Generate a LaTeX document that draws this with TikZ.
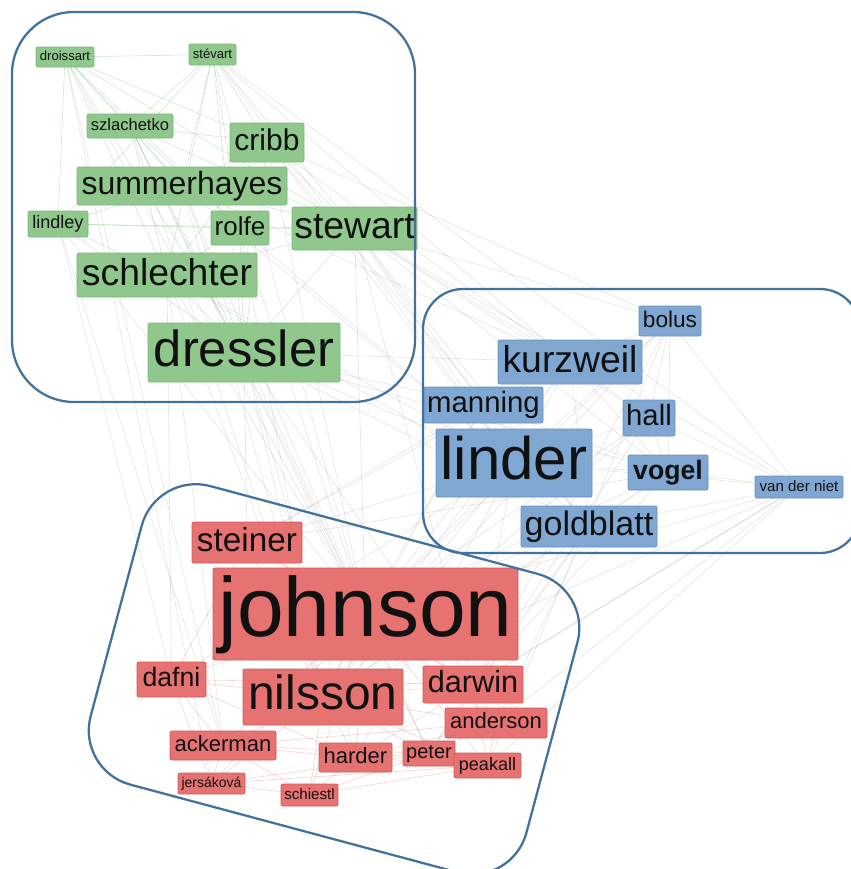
\documentclass[tikz,border=0pt]{standalone}
\usepackage{fontspec}
\setmainfont{Liberation Sans}
\usetikzlibrary{backgrounds}
\definecolor{gfill}{HTML}{90C78C}
\definecolor{gline}{HTML}{7CB879}
\definecolor{bfill}{HTML}{7FA7D2}
\definecolor{bline}{HTML}{6890BF}
\definecolor{rfill}{HTML}{E67272}
\definecolor{rline}{HTML}{D05A5A}
\definecolor{frame}{HTML}{41719C}
\definecolor{txt}{HTML}{111111}
\begin{document}
\begin{tikzpicture}[x=0.75pt,y=-0.75pt,
  nd/.style={rectangle, rounded corners=1.5pt, inner sep=0pt, text=txt, line width=0.6pt},
  gn/.style={nd, fill=gfill, draw=gline},
  bn/.style={nd, fill=bfill, draw=bline},
  rn/.style={nd, fill=rfill, draw=rline},
  sz/.style 2 args={minimum width=#1*0.75pt, minimum height=#2*0.75pt},
  fs/.style={font=\fontsize{#1}{#1}\selectfont, text height=0.75*#1pt, text depth=0.21*#1pt},
  fsb/.style={font=\fontsize{#1}{#1}\selectfont\bfseries, text height=0.75*#1pt, text depth=0.21*#1pt},
  gedge/.style={draw=green!35!gray, line width=0.45pt, opacity=0.28},
  xedge/.style={draw=gray, line width=0.45pt, opacity=0.22},
  bedge/.style={draw=orange!40!gray, line width=0.45pt, opacity=0.22},
  redge/.style={draw=red!60!gray, line width=0.45pt, opacity=0.22},
  cluster/.style={draw=frame, line width=1.7pt}
]
\useasboundingbox (0,0) rectangle (851,869);
\clip (0,0) rectangle (851,869);
% green cluster
\node[gn, sz={58}{20}, fs=9.8] (droissart) at (65,57) {droissart};
\node[gn, sz={47}{21}, fs=9.8] (stevart) at (212.5,54.5) {stévart};
\node[gn, sz={86}{24}, fs=12.4] (szlachetko) at (130,126) {szlachetko};
\node[gn, sz={74}{39}, fs=22.5] (cribb) at (267,142.5) {cribb};
\node[gn, sz={210}{38}, fs=24] (summerhayes) at (182,186) {summerhayes};
\node[gn, sz={60}{26}, fs=13.5] (lindley) at (58,224) {lindley};
\node[gn, sz={58}{34}, fs=19.5] (rolfe) at (240,228) {rolfe};
\node[gn, sz={125}{43}, fs=28] (stewart) at (354.5,228.5) {stewart};
\node[gn, sz={180}{44}, fs=28] (schlechter) at (167,275) {schlechter};
\node[gn, sz={192}{59}, fs=38] (dressler) at (244,352.5) {dressler};
% blue cluster
\node[bn, sz={62}{30}, fs=17] (bolus) at (670,321) {bolus};
\node[bn, sz={144}{44}, fs=28] (kurzweil) at (570,362) {kurzweil};
\node[bn, sz={119}{36}, fs=22] (manning) at (483.5,405) {manning};
\node[bn, sz={52}{36}, fs=22] (hall) at (649,418) {hall};
\node[bn, sz={156}{68}, fs=45] (linder) at (514,463) {linder};
\node[bn, sz={80}{35}, fsb=20] (vogel) at (668,472.5) {vogel};
\node[bn, sz={88}{22}, fs=11.3] (vdn) at (799,487) {van der niet};
\node[bn, sz={136}{41}, fs=25.5] (goldblatt) at (589,526.5) {goldblatt};
% red cluster
\node[rn, sz={110}{41}, fs=25] (steiner) at (247,542.5) {steiner};
\node[rn, sz={305}{92}, fs=63] (johnson) at (365.5,614) {johnson};
\node[rn, sz={69}{35}, fs=20] (dafni) at (171.5,679.5) {dafni};
\node[rn, sz={160}{56}, fs=36] (nilsson) at (323,697) {nilsson};
\node[rn, sz={100}{37}, fs=23] (darwin) at (473,684.5) {darwin};
\node[rn, sz={102}{30}, fs=16.5] (anderson) at (496,723) {anderson};
\node[rn, sz={106}{29}, fs=16.5] (ackerman) at (223,745.5) {ackerman};
\node[rn, sz={73}{29}, fs=16.5] (harder) at (355.5,757.5) {harder};
\node[rn, sz={52}{25}, fs=15] (peter) at (429,753.5) {peter};
\node[rn, sz={67}{25}, fs=13.5] (peakall) at (487.5,765.5) {peakall};
\node[rn, sz={67}{21}, fs=10.5] (jersakova) at (211.5,783.5) {jersáková};
\node[rn, sz={57}{22}, fs=11.3] (schiestl) at (309.5,795) {schiestl};

\begin{pgfonlayer}{background}
\foreach \a/\b in {droissart/stevart, droissart/szlachetko, droissart/summerhayes, droissart/cribb, droissart/lindley, droissart/schlechter, droissart/rolfe, droissart/stewart, droissart/dressler,
stevart/szlachetko, stevart/summerhayes, stevart/cribb, stevart/schlechter, stevart/stewart, stevart/dressler, stevart/rolfe, stevart/lindley,
szlachetko/cribb, szlachetko/summerhayes, szlachetko/schlechter, szlachetko/dressler, szlachetko/rolfe, szlachetko/stewart,
lindley/rolfe, lindley/stewart, lindley/schlechter, lindley/summerhayes, lindley/dressler,
rolfe/stewart, summerhayes/cribb, summerhayes/stewart, schlechter/dressler, cribb/stewart, cribb/schlechter, cribb/dressler, summerhayes/dressler, rolfe/dressler, stewart/schlechter, stewart/dressler, rolfe/schlechter}
  \draw[gedge] (\a.center) -- (\b.center);
\foreach \a/\b in {dressler/johnson, dressler/nilsson, dressler/linder, dressler/steiner, dressler/kurzweil, dressler/goldblatt, dressler/darwin, dressler/harder, dressler/manning, dressler/vogel,
schlechter/johnson, schlechter/nilsson, schlechter/linder, schlechter/dafni, schlechter/ackerman, schlechter/goldblatt,
stewart/linder, stewart/johnson, stewart/kurzweil, stewart/vdn, stewart/bolus, stewart/manning, stewart/hall, stewart/vogel, stewart/goldblatt, stewart/darwin,
summerhayes/linder, summerhayes/johnson, summerhayes/nilsson, summerhayes/kurzweil,
cribb/linder, cribb/johnson, cribb/kurzweil, cribb/goldblatt, cribb/bolus,
rolfe/johnson, rolfe/linder, rolfe/nilsson,
szlachetko/johnson, szlachetko/nilsson, szlachetko/peter,
stevart/johnson, stevart/linder, stevart/vdn, stevart/kurzweil,
droissart/johnson, droissart/ackerman, droissart/jersakova,
lindley/dafni, lindley/johnson, lindley/ackerman,
linder/johnson, linder/nilsson, linder/steiner, linder/darwin, linder/harder, linder/dafni,
kurzweil/johnson, kurzweil/nilsson, kurzweil/steiner,
manning/johnson, manning/nilsson, manning/steiner,
goldblatt/johnson, goldblatt/nilsson, goldblatt/darwin, goldblatt/peter, goldblatt/anderson,
vogel/johnson, vogel/nilsson, vogel/darwin, vogel/steiner,
hall/johnson, hall/nilsson, hall/darwin,
vdn/johnson, vdn/nilsson, vdn/darwin, vdn/anderson, vdn/peakall, vdn/harder,
bolus/johnson, bolus/nilsson, bolus/darwin, bolus/peakall}
  \draw[xedge] (\a.center) -- (\b.center);
\foreach \a/\b in {linder/kurzweil, linder/manning, linder/hall, linder/vogel, linder/vdn, linder/goldblatt, linder/bolus,
kurzweil/hall, kurzweil/vogel, kurzweil/bolus, kurzweil/goldblatt, kurzweil/manning,
vogel/vdn, bolus/vdn, goldblatt/vdn, hall/vdn, hall/vogel, goldblatt/vogel, bolus/hall, bolus/vogel, manning/vogel, manning/goldblatt}
  \draw[bedge] (\a.center) -- (\b.center);
\foreach \a/\b in {johnson/nilsson, johnson/steiner, johnson/dafni, johnson/darwin, johnson/anderson, johnson/ackerman, johnson/harder, johnson/peter, johnson/peakall, johnson/schiestl, johnson/jersakova,
nilsson/dafni, nilsson/darwin, nilsson/anderson, nilsson/ackerman, nilsson/harder, nilsson/peter, nilsson/peakall, nilsson/schiestl, nilsson/jersakova, nilsson/steiner,
dafni/ackerman, dafni/darwin, dafni/jersakova, dafni/harder,
ackerman/harder, ackerman/peter, ackerman/jersakova, ackerman/schiestl, ackerman/anderson,
harder/peter, harder/schiestl, harder/peakall, peter/peakall, peter/anderson, peter/schiestl, peakall/anderson, peakall/jersakova, darwin/anderson, darwin/peter, darwin/peakall, jersakova/schiestl, jersakova/peter, schiestl/peakall, steiner/dafni, steiner/darwin, anderson/harder}
  \draw[redge] (\a.center) -- (\b.center);
\end{pgfonlayer}

% cluster outlines
\draw[cluster, rounded corners=46.5pt] (12,12) rectangle (415,402);
\draw[cluster, rounded corners=30pt] (423,289) rectangle (860,553);
\draw[cluster, rounded corners=42pt] (374,530) -- (591.9,588.4) -- (511.9,886.9) -- (76.2,770.1) -- (156.2,471.6) -- cycle;
\end{tikzpicture}
\end{document}
